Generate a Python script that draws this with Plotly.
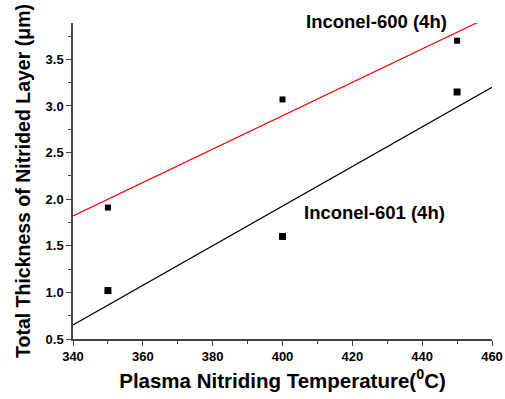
import plotly.graph_objects as go

temps = [350, 400, 450]
inconel600 = [1.91, 3.07, 3.70]
inconel601 = [1.02, 1.60, 3.15]

fit_x = [340, 460]
fit600_y = [1.82, 3.97]
fit601_y = [0.65, 3.20]

x_ticks = [340, 360, 380, 400, 420, 440, 460]
y_ticks = [0.5, 1.0, 1.5, 2.0, 2.5, 3.0, 3.5]

FONT = "Liberation Sans, Arial, sans-serif"
AX = "#444444"

fig = go.Figure()
fig.add_trace(go.Scatter(x=fit_x, y=fit600_y, mode="lines",
                         line=dict(color="red", width=1.2), showlegend=False))
fig.add_trace(go.Scatter(x=fit_x, y=fit601_y, mode="lines",
                         line=dict(color="black", width=1.2), showlegend=False))
fig.add_trace(go.Scatter(x=temps, y=inconel600, mode="markers",
                         marker=dict(symbol="square", size=6, color="black"),
                         showlegend=False, cliponaxis=False))
fig.add_trace(go.Scatter(x=temps, y=inconel601, mode="markers",
                         marker=dict(symbol="square", size=7, color="black"),
                         showlegend=False, cliponaxis=False))

fig.add_annotation(x=427, y=1.004, xref="x", yref="paper", text="<b>Inconel-600 (4h)</b>",
                   showarrow=False, yanchor="middle", xanchor="center",
                   font=dict(family=FONT, size=18.5, color="black"))
fig.add_annotation(x=426.3, y=1.86, xref="x", yref="y", text="<b>Inconel-601 (4h)</b>",
                   showarrow=False, xanchor="center", yanchor="middle",
                   font=dict(family=FONT, size=18.5, color="black"))

tickfont = dict(family=FONT, size=13, color="black", weight="bold")

fig.update_layout(
    width=505, height=399,
    margin=dict(l=73, r=13, t=23, b=60, autoexpand=False),
    paper_bgcolor="white", plot_bgcolor="white",
    font=dict(family=FONT, color="black"),
    xaxis=dict(range=[340, 460], tickvals=x_ticks, ticktext=[str(v) for v in x_ticks],
               automargin=False,
               showgrid=False, zeroline=False, showline=True, linecolor=AX, linewidth=1.5,
               ticks="outside", ticklen=5, tickcolor=AX, tickwidth=1.2,
               minor=dict(dtick=10, ticks="outside", ticklen=3, tickcolor=AX, tickwidth=1),
               tickfont=tickfont,
               title=dict(text="<b>Plasma Nitriding Temperature(<sup>0</sup>C)</b>",
                          font=dict(family=FONT, size=20.5, color="black"), standoff=10)),
    yaxis=dict(range=[0.5, 3.89], tickvals=y_ticks, ticktext=[f"{v:.1f}" for v in y_ticks],
               automargin=False,
               showgrid=False, zeroline=False, showline=True, linecolor=AX, linewidth=1.5,
               ticks="outside", ticklen=5, tickcolor=AX, tickwidth=1.2,
               minor=dict(dtick=0.25, ticks="outside", ticklen=3, tickcolor=AX, tickwidth=1),
               tickfont=tickfont,
               title=dict(text="<b>Total Thickness of Nitrided Layer (μm)</b>",
                          font=dict(family=FONT, size=19.5, color="black"), standoff=10)),
)

fig.write_html("out.html")
